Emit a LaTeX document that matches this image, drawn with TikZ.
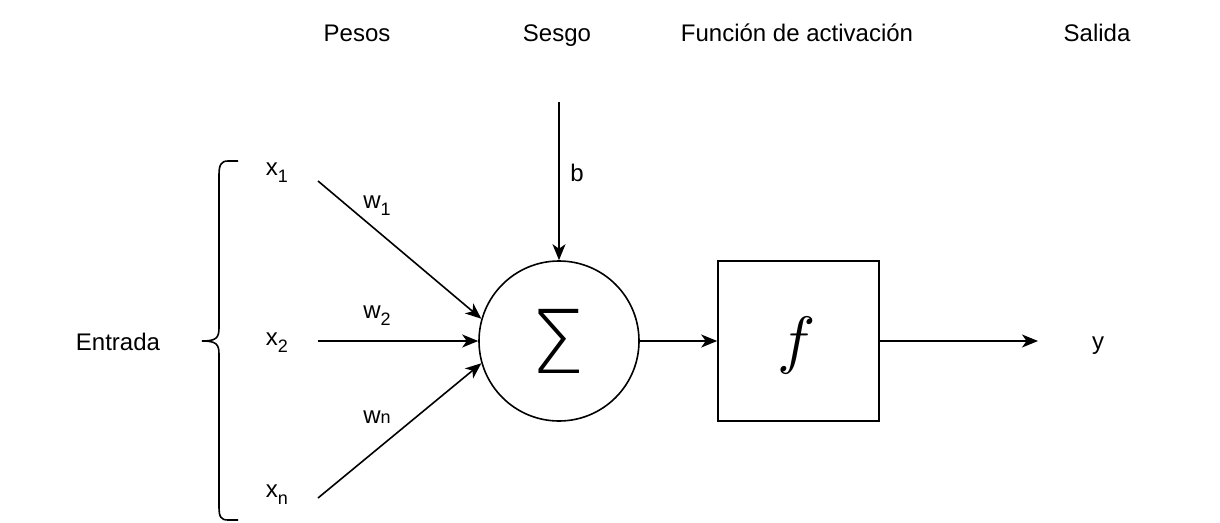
\documentclass[tikz,border=0pt]{standalone}
\usepackage{fontspec}
\setmainfont{Liberation Sans}
\newfontfamily\thinfont{DejaVu Sans ExtraLight}
\usetikzlibrary{arrows.meta}
\newcommand\mysub[1]{\raisebox{-7pt}{\fontsize{18}{18}\selectfont #1}}
\newcommand\mysmall[1]{{\fontsize{18}{18}\selectfont #1}}
\tikzset{
  lbl/.style={font=\fontsize{24}{27}\selectfont, inner sep=0pt, anchor=base},
  conn/.style={line width=1.6pt, -{Stealth[length=16pt,width=13pt,inset=4.5pt]}},
  shapeline/.style={line width=1.6pt},
}
\begin{document}
\begin{tikzpicture}[x=1pt,y=-1pt]
\useasboundingbox (0,0) rectangle (1220,522);
% headers
\node[lbl] (pesos) at (357,41) {Pesos};
\node[lbl] (sesgo) at (557,41) {Sesgo};
\node[lbl] (func) at (797,41) {Función de activación};
\node[lbl] (salida) at (1097,41) {Salida};
% inputs
\node[lbl] (entrada) at (118,350) {Entrada};
\node[lbl] (x1) at (277,175) {x\mysub{1}};
\node[lbl] (x2) at (277,345) {x\mysub{2}};
\node[lbl] (xn) at (277,497) {x\mysub{n}};
% brace
\draw[shapeline] (238,161) -- (228,161) .. controls (221,161) and (219,165) .. (219,175)
  -- (219,328) .. controls (219,338) and (216,341) .. (202,341)
  .. controls (216,341) and (219,344) .. (219,354)
  -- (219,507) .. controls (219,517) and (221,520) .. (228,520) -- (238,520);
% summation node
\node[shapeline, draw, circle, minimum size=160pt, inner sep=0pt] (sum) at (559,341) {};
\node[inner sep=0pt, anchor=base, font=\thinfont\fontsize{88}{88}\selectfont] (sigma) at (558,373) {\scalebox{0.98}[1]{Σ}};
% activation
\node[shapeline, draw, minimum width=161pt, minimum height=160pt, inner sep=0pt] (act) at (798.5,341) {};
\node[inner sep=0pt] (fsym) at (797,345) {\scalebox{6.4}{$f$}};
% coordinates
\coordinate (s1) at (318,181);
\coordinate (s2) at (318,341);
\coordinate (sn) at (318,498);
\coordinate (bstart) at (559,102);
\coordinate (yend) at (1038,341);
% connectors
\draw[conn] (s1) -- (sum.164);
\draw[conn] (s2) -- (sum.west);
\draw[conn] (sn) -- (sum.196);
\draw[conn] (bstart) -- (sum.north);
\draw[conn] (sum.east) -- (act.west);
\draw[conn] (act.east) -- (yend);
% labels
\node[lbl] (w1) at (377,208) {w\mysub{1}};
\node[lbl] (w2) at (377,318) {w\mysub{2}};
\node[lbl] (wn) at (377,423) {w\mysmall{n}};
\node[lbl] (b) at (577,181) {b};
\node[lbl] (y) at (1098,349) {y};
\end{tikzpicture}
\end{document}
